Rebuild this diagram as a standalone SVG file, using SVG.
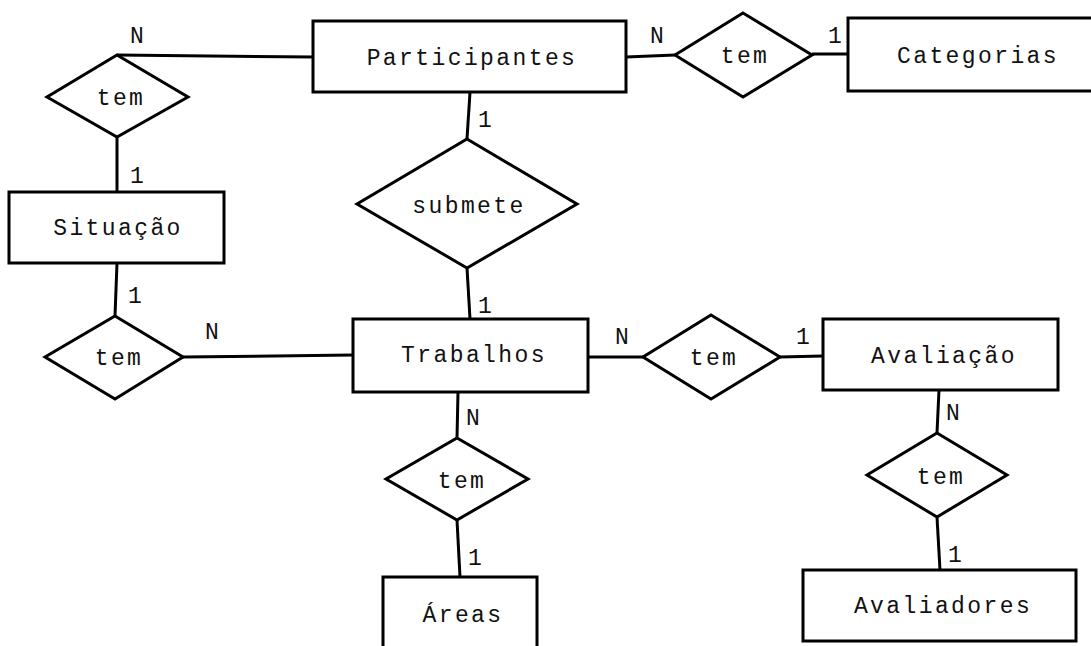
<svg xmlns="http://www.w3.org/2000/svg" width="1091" height="646" viewBox="0 0 1091 646">
<style>
.ent{fill:#fff;stroke:#000;stroke-width:3}
.rel{fill:#fff;stroke:#000;stroke-width:3;stroke-linejoin:miter}
.t{font-family:"Liberation Mono","Courier New",monospace;font-size:23px;letter-spacing:2.4px;text-anchor:middle;fill:#111}
.c{font-family:"Liberation Mono","Courier New",monospace;font-size:23px;text-anchor:middle;fill:#111}
.ln{stroke:#000;stroke-width:3;fill:none}
</style>
<rect width="1091" height="646" fill="#fff"/>
<g id="connectors">
<line class="ln" x1="117" y1="55" x2="313" y2="57"/>
<line class="ln" x1="117" y1="137" x2="117" y2="192"/>
<line class="ln" x1="117" y1="263" x2="115" y2="316"/>
<line class="ln" x1="183" y1="357" x2="353" y2="355"/>
<line class="ln" x1="626" y1="57" x2="675" y2="55"/>
<line class="ln" x1="812" y1="54" x2="848" y2="54"/>
<line class="ln" x1="470" y1="92" x2="467" y2="139"/>
<line class="ln" x1="467" y1="268" x2="470" y2="319"/>
<line class="ln" x1="588" y1="357" x2="643" y2="357"/>
<line class="ln" x1="780" y1="357" x2="823" y2="356"/>
<line class="ln" x1="939" y1="390" x2="937" y2="433"/>
<line class="ln" x1="937" y1="517" x2="940" y2="570"/>
<line class="ln" x1="458" y1="392" x2="457" y2="438"/>
<line class="ln" x1="457" y1="520" x2="460" y2="577"/>
<text class="c" x="137" y="43">N</text>
<text class="c" x="137" y="183">1</text>
<text class="c" x="135" y="303">1</text>
<text class="c" x="212" y="339">N</text>
<text class="c" x="657" y="43">N</text>
<text class="c" x="835" y="43">1</text>
<text class="c" x="485" y="127">1</text>
<text class="c" x="485" y="313">1</text>
<text class="c" x="622" y="344">N</text>
<text class="c" x="803" y="344">1</text>
<text class="c" x="953" y="420">N</text>
<text class="c" x="955" y="562">1</text>
<text class="c" x="473" y="425">N</text>
<text class="c" x="475" y="565">1</text>
</g>
<g id="participantes"><rect class="ent" x="313" y="21" width="313" height="71"/><text class="t" x="472" y="65">Participantes</text></g>
<g id="categorias"><rect class="ent" x="848" y="18" width="260" height="73"/><text class="t" x="978" y="63">Categorias</text></g>
<g id="situacao"><rect class="ent" x="9" y="192" width="215" height="71"/><text class="t" x="118" y="235">Situação</text></g>
<g id="trabalhos"><rect class="ent" x="353" y="319" width="235" height="73"/><text class="t" x="474" y="362">Trabalhos</text></g>
<g id="avaliacao"><rect class="ent" x="823" y="319" width="235" height="71"/><text class="t" x="944" y="363">Avaliação</text></g>
<g id="avaliadores"><rect class="ent" x="803" y="570" width="273" height="71"/><text class="t" x="943" y="613">Avaliadores</text></g>
<g id="areas"><rect class="ent" x="383" y="577" width="154" height="90"/><text class="t" x="463" y="622">Áreas</text></g>
<g id="rel-tem-situacao-part"><polygon class="rel" points="117,55 188,97 117,137 47,97"/><text class="t" x="121" y="105">tem</text></g>
<g id="rel-tem-categorias"><polygon class="rel" points="743,13 812,55 743,97 675,55"/><text class="t" x="745" y="63">tem</text></g>
<g id="rel-submete"><polygon class="rel" points="467,139 577,204 467,268 357,204"/><text class="t" x="469" y="213">submete</text></g>
<g id="rel-tem-situacao-trab"><polygon class="rel" points="115,316 183,357 115,399 45,357"/><text class="t" x="119" y="365">tem</text></g>
<g id="rel-tem-avaliacao"><polygon class="rel" points="711,315 780,357 711,399 643,357"/><text class="t" x="714" y="365">tem</text></g>
<g id="rel-tem-avaliadores"><polygon class="rel" points="937,433 1007,475 937,517 867,475"/><text class="t" x="941" y="484">tem</text></g>
<g id="rel-tem-areas"><polygon class="rel" points="457,438 528,479 457,520 386,479"/><text class="t" x="462" y="488">tem</text></g>
</svg>
